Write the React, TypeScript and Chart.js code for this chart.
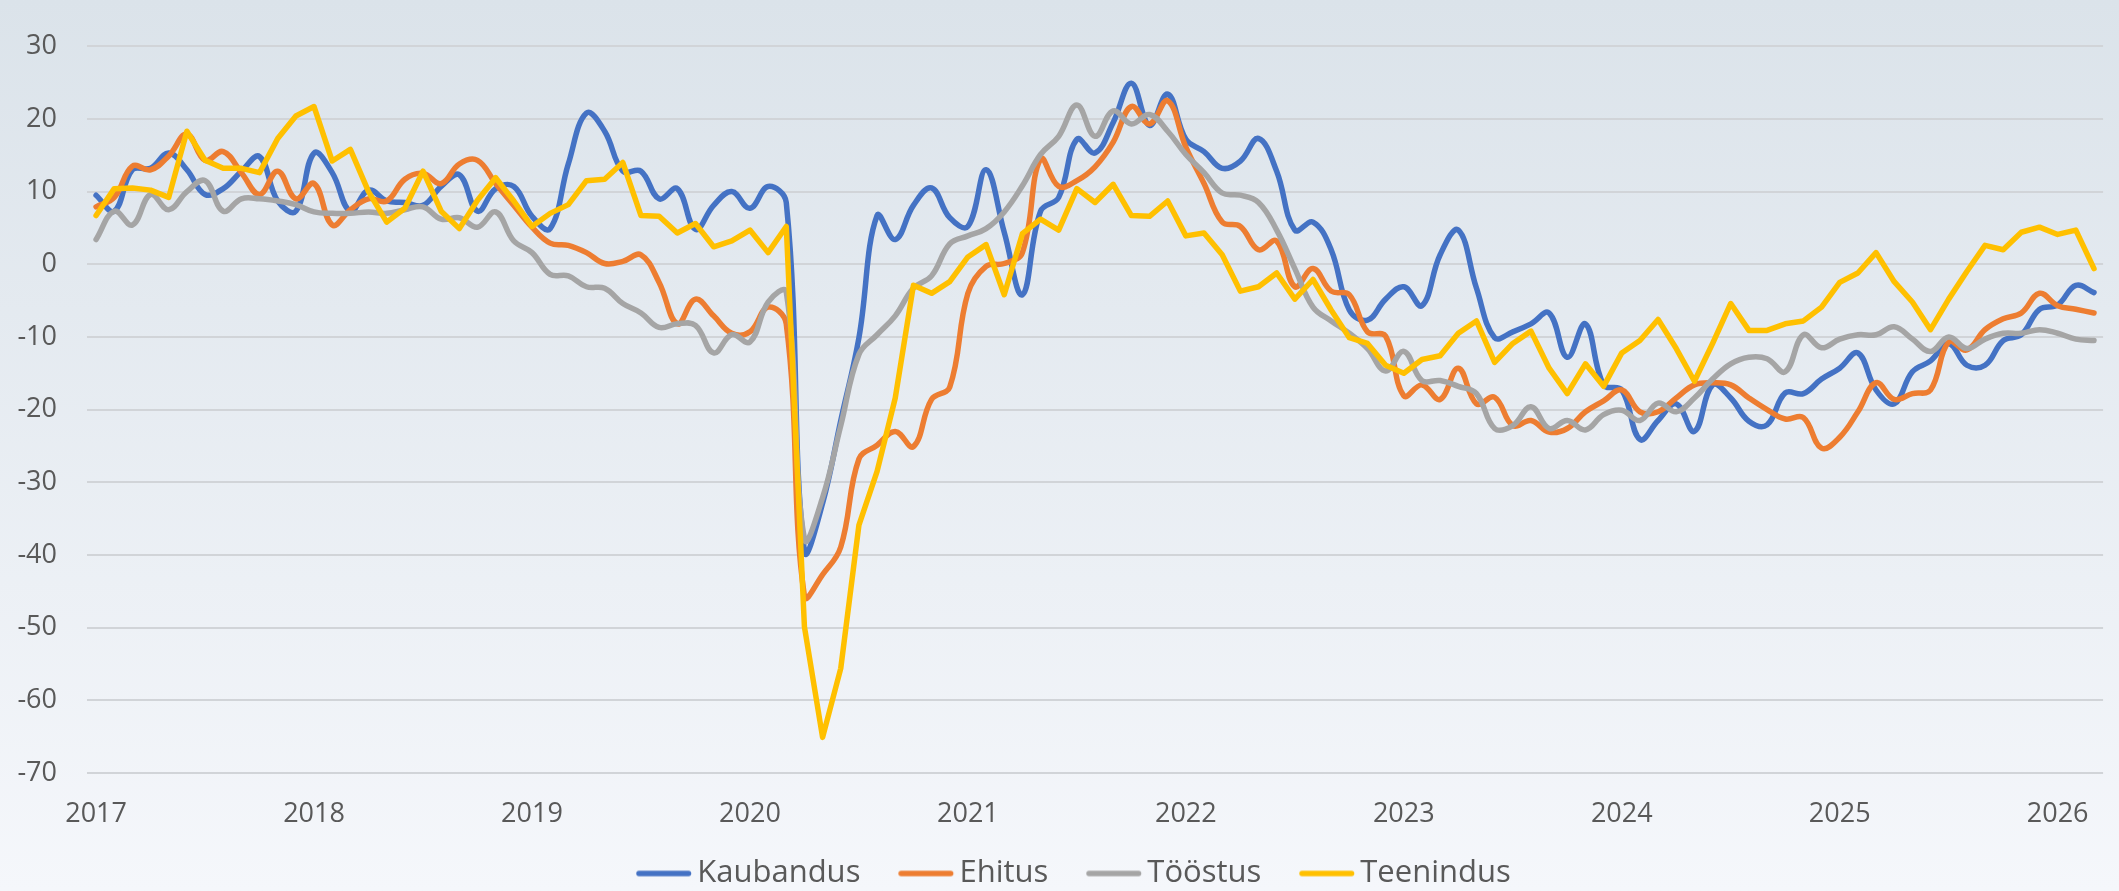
import React, { useEffect, useRef } from 'react';
import { Chart, registerables } from 'chart.js';

Chart.register(...registerables);

// Year tick labels (one per January)
const years = ['2017', '2018', '2019', '2020', '2021', '2022', '2023', '2024', '2025', '2026'];
const monthCount = 111; // Jan 2017 .. Mar 2026
const categories = Array.from({ length: monthCount }, (_, i) =>
  `${years[Math.floor(i / 12)]}-${String((i % 12) + 1).padStart(2, '0')}`
);

const kaubandus = [
  9.5, 7.3, 13.0, 13.2, 15.3, 13.0, 9.6, 10.4, 12.8, 14.8,
  8.7, 7.3, 15.3, 12.6, 7.3, 10.2, 8.7, 8.5, 8.1, 10.7,
  12.3, 7.3, 10.4, 10.7, 6.6, 4.9, 13.8, 20.8, 18.3, 12.8,
  12.8, 9.0, 10.4, 4.8, 8.1, 10.0, 7.7, 10.7, 8.5, -39.5,
  -32.9, -21.5, -10.1, 6.7, 3.4, 8.1, 10.5, 6.4, 5.2, 13.0,
  4.4, -4.2, 7.3, 9.2, 17.2, 15.3, 19.5, 24.9, 19.1, 23.4,
  17.2, 15.5, 13.2, 14.2, 17.3, 12.8, 4.7, 5.8, 2.0, -6.3,
  -7.7, -4.8, -3.1, -5.7, 1.3, 4.7, -3.3, -10.1, -9.3, -8.2,
  -6.7, -12.8, -8.2, -16.6, -17.3, -24.1, -21.5, -19.2, -23.0, -16.6,
  -18.4, -21.6, -22.1, -17.7, -17.8, -15.8, -14.3, -12.2, -17.3, -19.2,
  -14.8, -13.3, -10.9, -13.9, -13.9, -10.5, -9.7, -6.2, -5.6, -2.9,
  -3.9,
];

const ehitus = [
  7.9, 9.2, 13.5, 13.0, 14.9, 17.9, 14.3, 15.5, 12.6, 9.6,
  12.8, 9.0, 11.1, 5.4, 7.5, 9.0, 8.7, 11.7, 12.5, 11.1,
  13.8, 14.3, 11.1, 8.1, 5.1, 2.9, 2.6, 1.6, 0.1, 0.4,
  1.3, -2.5, -8.2, -4.8, -7.1, -9.5, -9.3, -5.9, -8.2, -45.7,
  -42.7, -38.9, -26.8, -24.9, -23.0, -25.1, -18.6, -16.9, -4.0, -0.3,
  0.1, 1.6, 14.5, 10.7, 11.5, 13.4, 16.8, 21.7, 19.3, 22.5,
  16.1, 11.1, 5.8, 5.2, 2.0, 3.2, -3.1, -0.6, -3.7, -4.2,
  -9.3, -9.9, -18.1, -16.6, -18.6, -14.3, -19.2, -18.3, -22.2, -21.5,
  -23.1, -22.6, -20.3, -18.8, -17.3, -20.3, -20.3, -18.4, -16.6, -16.3,
  -16.6, -18.4, -20.0, -21.3, -21.1, -25.3, -23.8, -20.3, -16.3, -18.6,
  -17.8, -17.3, -10.7, -11.8, -9.0, -7.5, -6.7, -4.0, -5.7, -6.2,
  -6.7,
];

const toostus = [
  3.4, 7.3, 5.4, 9.6, 7.5, 10.0, 11.5, 7.3, 9.0, 9.0,
  8.7, 8.2, 7.2, 7.0, 7.0, 7.2, 7.0, 7.5, 7.9, 6.2,
  6.4, 5.1, 7.2, 3.2, 1.6, -1.4, -1.6, -3.1, -3.3, -5.4,
  -6.7, -8.7, -8.2, -8.4, -12.2, -9.7, -10.7, -5.2, -3.8, -37.8,
  -32.1, -22.2, -12.4, -9.7, -7.1, -3.3, -1.6, 2.8, 3.9, 4.9,
  7.2, 10.8, 15.1, 17.6, 21.9, 17.6, 21.1, 19.3, 20.6, 18.3,
  15.1, 12.6, 9.8, 9.5, 8.5, 4.7, -0.6, -5.9, -7.8, -9.5,
  -11.6, -14.7, -12.0, -16.0, -16.0, -16.8, -17.8, -22.6, -22.2, -19.6,
  -22.6, -21.5, -22.8, -20.7, -20.1, -21.5, -19.1, -20.3, -18.4, -15.8,
  -13.7, -12.8, -13.0, -14.8, -9.7, -11.5, -10.3, -9.7, -9.7, -8.6,
  -10.3, -12.0, -10.0, -11.6, -10.3, -9.5, -9.5, -9.0, -9.5, -10.3,
  -10.5,
];

const teenindus = [
  6.7, 10.4, 10.5, 10.2, 9.2, 18.3, 14.3, 13.2, 13.2, 12.6,
  17.3, 20.4, 21.7, 14.2, 15.8, 10.0, 5.8, 7.7, 12.8, 7.3,
  4.9, 8.8, 11.9, 8.7, 5.2, 7.0, 8.2, 11.5, 11.7, 14.0,
  6.7, 6.6, 4.3, 5.6, 2.4, 3.2, 4.7, 1.6, 5.2, -49.9,
  -65.1, -55.6, -35.9, -28.5, -18.4, -2.9, -4.0, -2.4, 1.0, 2.7,
  -4.2, 4.2, 6.2, 4.7, 10.4, 8.5, 11.0, 6.7, 6.6, 8.7,
  3.9, 4.3, 1.3, -3.7, -3.1, -1.2, -4.8, -2.1, -6.3, -10.1,
  -10.9, -13.9, -15.0, -13.1, -12.6, -9.5, -7.8, -13.5, -10.9, -9.2,
  -14.3, -17.8, -13.7, -16.8, -12.2, -10.5, -7.6, -11.6, -16.1, -10.9,
  -5.4, -9.1, -9.1, -8.2, -7.8, -5.9, -2.5, -1.2, 1.6, -2.4,
  -5.2, -9.0, -4.8, -1.0, 2.6, 2.0, 4.4, 5.1, 4.1, 4.7,
  -0.6,
];

const seriesNames = ['Kaubandus', 'Ehitus', 'Tööstus', 'Teenindus'];
const seriesColors = ['#4472C4', '#ED7D31', '#A5A5A5', '#FFC000'];

const W = 2119;
const H = 891;
const CANVAS_H = 899;

function makeLegendSample(color: string): HTMLCanvasElement {
  const c = document.createElement('canvas');
  c.width = 100;
  c.height = 10;
  const g = c.getContext('2d')!;
  g.strokeStyle = color;
  g.lineWidth = 5.5;
  g.lineCap = 'round';
  g.beginPath();
  g.moveTo(44, 5);
  g.lineTo(93.5, 5);
  g.stroke();
  return c;
}

export default function App() {
  const ref = useRef<HTMLCanvasElement>(null);

  useEffect(() => {
    if (!ref.current) return;
    const seriesData = [kaubandus, ehitus, toostus, teenindus];
    const tickFont = { family: 'Open Sans', size: 27 };
    const chart = new Chart(ref.current, {
      type: 'line',
      data: {
        labels: categories,
        datasets: seriesNames.map((name, k) => ({
          label: name,
          data: seriesData[k],
          borderColor: seriesColors[k],
          backgroundColor: seriesColors[k],
          borderWidth: 5.5,
          tension: k === 3 ? 0 : 0.4,
          pointRadius: 0,
          pointHoverRadius: 0,
          pointStyle: makeLegendSample(seriesColors[k]) as any,
          borderCapStyle: 'round',
          borderJoinStyle: 'round',
          fill: false,
          order: 4 - k,
        })),
      },
      options: {
        responsive: false,
        animation: false,
        devicePixelRatio: 1,
        layout: { padding: { top: 23, left: 0, right: 0, bottom: 0 } },
        plugins: {
          legend: {
            position: 'bottom',
            labels: {
              usePointStyle: true,
              pointStyleWidth: 73.5,
              padding: 10,
              color: '#595959',
              font: { family: 'Open Sans', size: 31 },
              sort: (a: any, b: any) => a.datasetIndex - b.datasetIndex,
            },
          },
          tooltip: { enabled: false },
        },
        scales: {
          x: {
            offset: true,
            grid: { display: false, drawTicks: false },
            border: { display: false },
            ticks: {
              autoSkip: false,
              maxRotation: 0,
              minRotation: 0,
              padding: 25,
              color: '#595959',
              font: tickFont,
              callback: (_v: any, i: number) => (i % 12 === 0 ? years[i / 12] : ''),
            },
            afterFit: (s: any) => {
              s.height = 75;
            },
          },
          y: {
            min: -70,
            max: 30,
            ticks: { stepSize: 10, padding: 30, color: '#595959', font: tickFont },
            grid: { color: '#d1d4d8', lineWidth: 2, drawTicks: false },
            border: { display: false },
            afterFit: (s: any) => {
              s.width = 87;
            },
          },
        },
      },
    });
    return () => chart.destroy();
  }, []);

  return (
    <div
      style={{
        position: 'fixed',
        left: 0,
        top: 0,
        width: W,
        height: H,
        overflow: 'hidden',
        background: 'linear-gradient(to bottom, #dbe3ea 0%, #f5f7fb 100%)',
      }}
    >
      <canvas ref={ref} width={W} height={CANVAS_H} style={{ display: 'block', width: W, height: CANVAS_H }} />
    </div>
  );
}
